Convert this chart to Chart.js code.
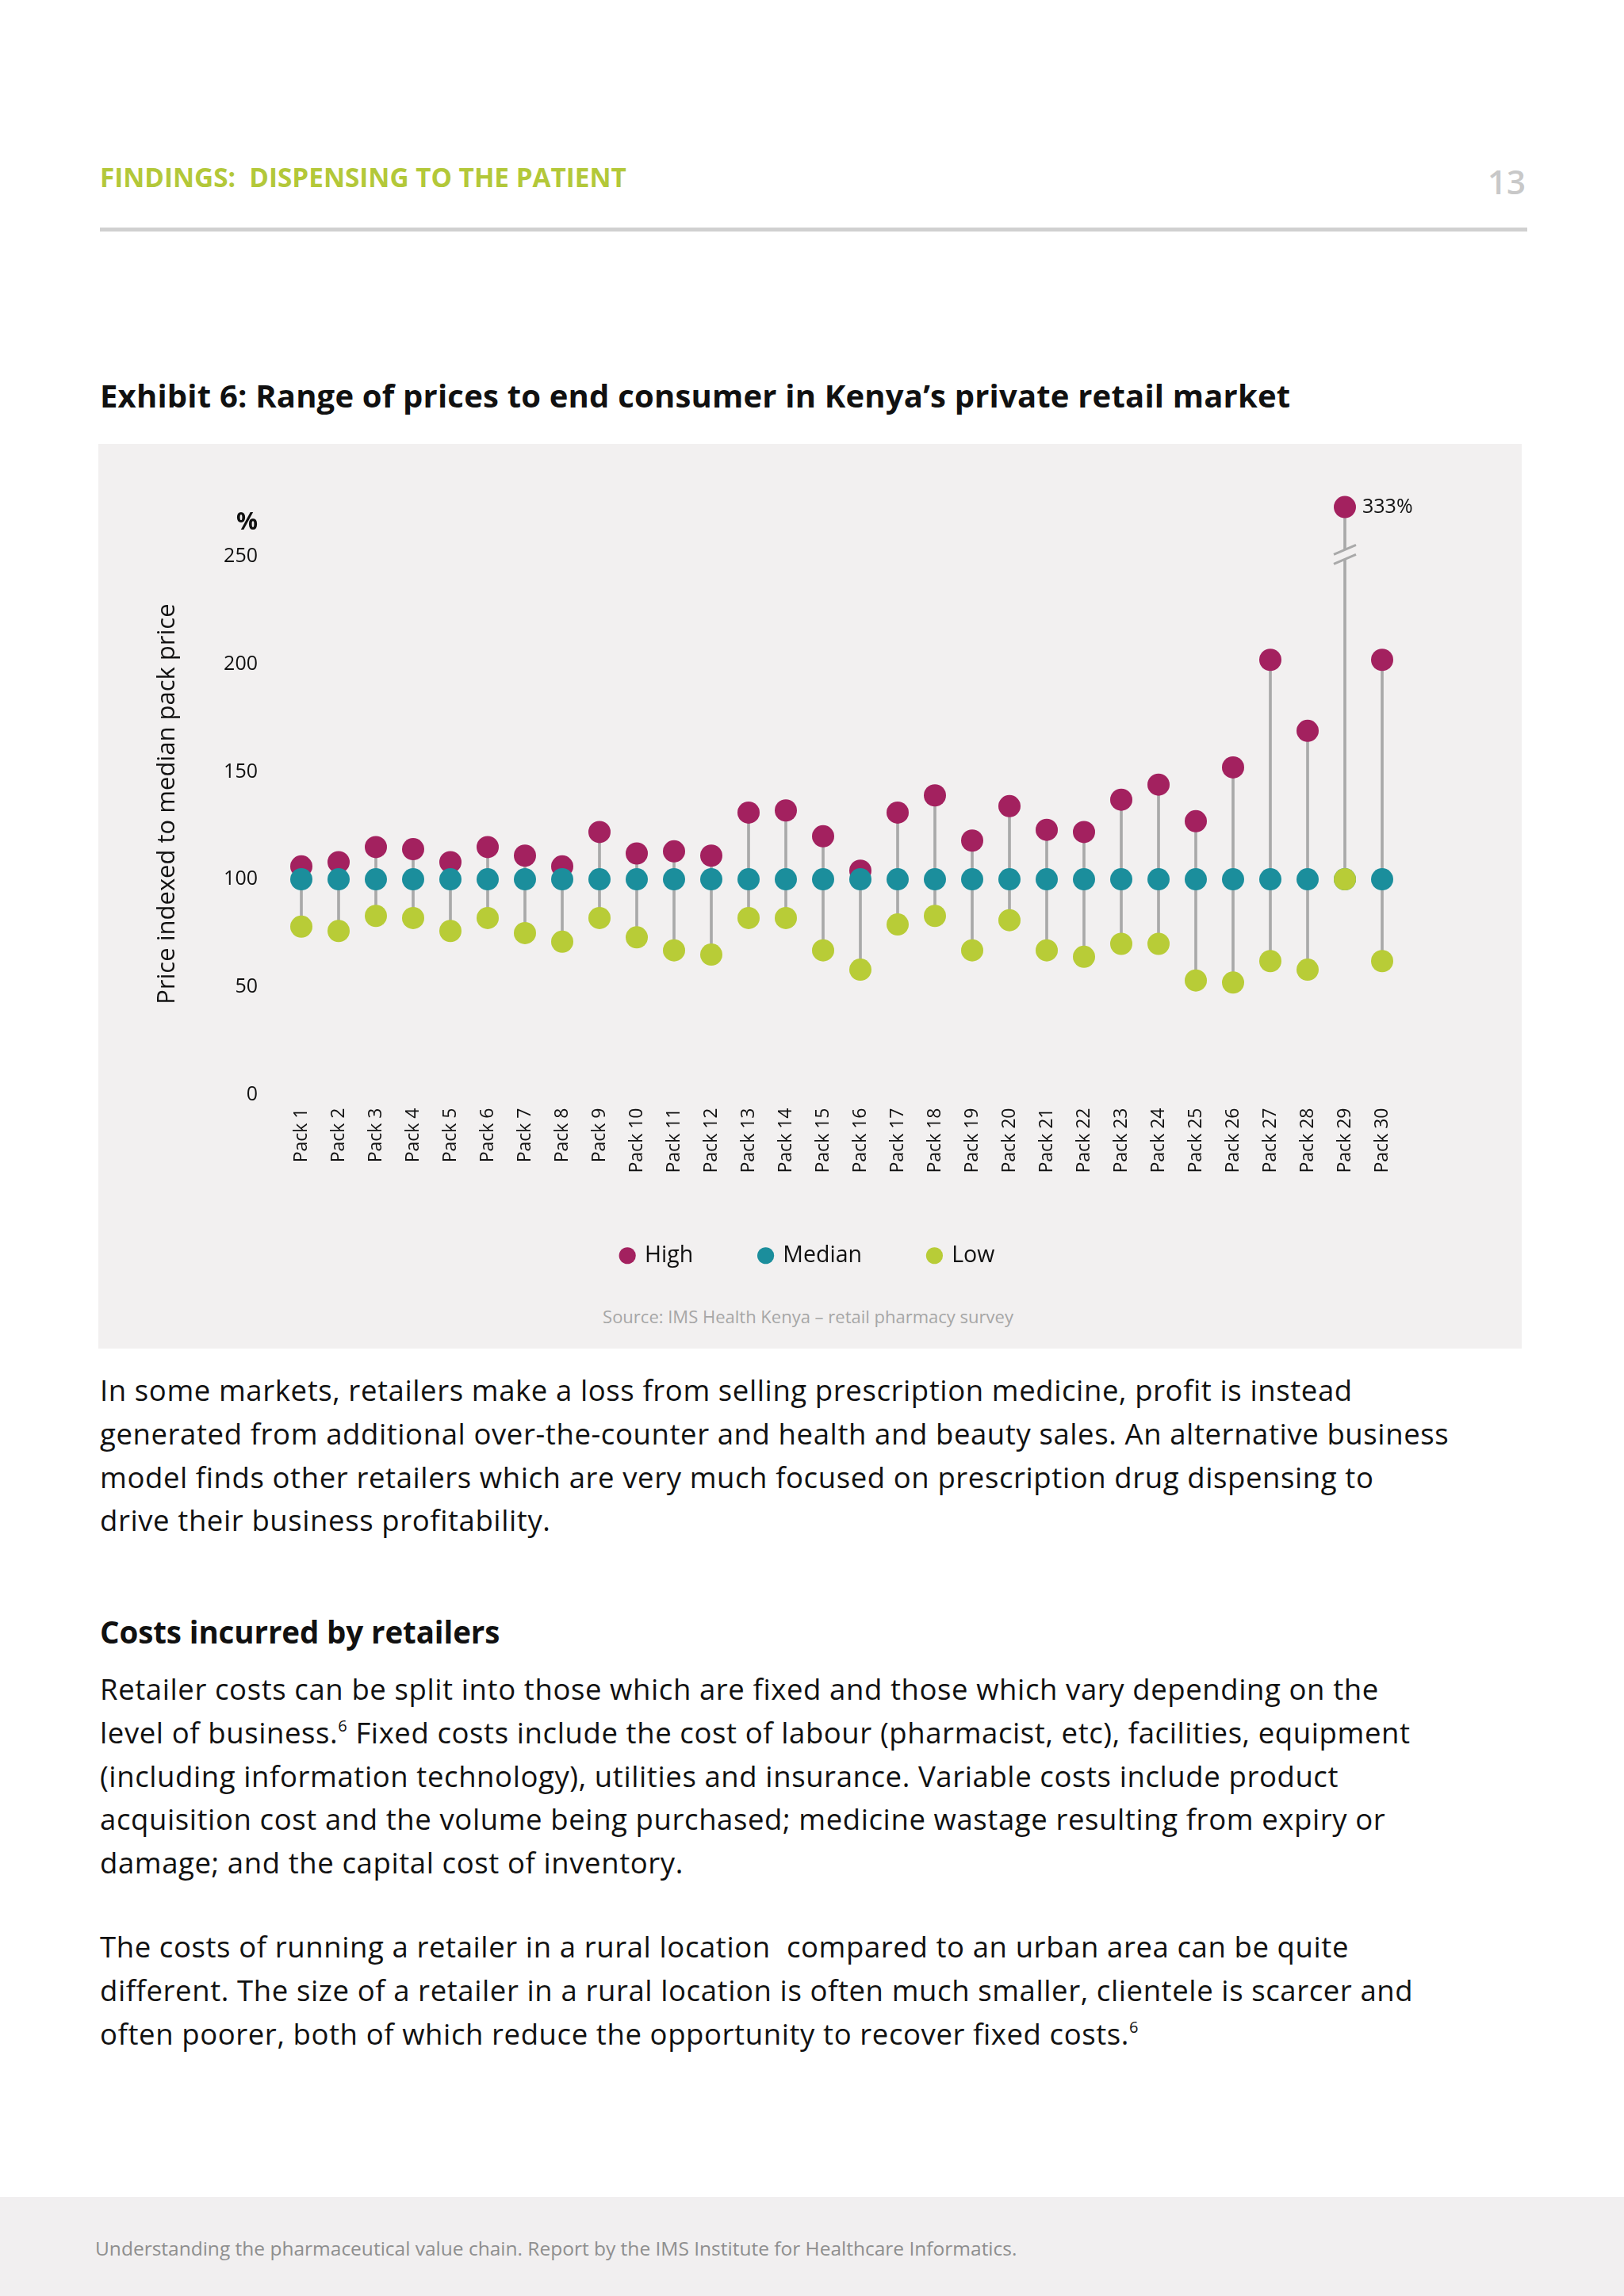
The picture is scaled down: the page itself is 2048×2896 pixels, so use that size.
<!DOCTYPE html>
<html lang="en">
<head>
<meta charset="UTF-8">
<title>Exhibit 6: Range of prices to end consumer in Kenya’s private retail market</title>
<script src="https://cdn.jsdelivr.net/npm/chart.js"></script>
<style>
    body {
        margin: 0;
        width: 2048px;
        height: 2896px;
        position: relative;
        overflow: hidden;
        background: #ffffff;
        font-family: 'Open Sans', sans-serif;
        color: #111111;
    }

    .abs {
        position: absolute;
        white-space: nowrap;
    }

    #section {
        left: 126px;
        top: 207px;
        font-size: 33.3px;
        line-height: 33.3px;
        font-weight: 700;
        color: #b3c839;
    }

    #pageNo {
        right: 124px;
        top: 208px;
        font-size: 42px;
        line-height: 42px;
        font-weight: 600;
        color: #c8c8c8;
    }

    #rule {
        left: 126px;
        top: 287px;
        width: 1800px;
        height: 5px;
        background: #d0d0d0;
    }

    #exhibit {
        left: 126px;
        top: 479px;
        font-size: 40px;
        line-height: 40px;
        font-weight: 700;
        letter-spacing: 0.2px;
    }

    #panel {
        left: 124px;
        top: 560px;
        width: 1795px;
        height: 1141px;
        background: #f2f0f0;
    }

    #chartBox {
        position: absolute;
        left: 124px;
        top: 560px;
    }

    #source {
        left: 519px;
        top: 1649px;
        width: 1000px;
        text-align: center;
        font-size: 22px;
        line-height: 22px;
        color: #a6a6a6;
    }

    .para {
        left: 126px;
        font-size: 36.5px;
        line-height: 54.8px;
        letter-spacing: 0.6px;
    }

    .para sup {
        font-size: 0.55em;
        line-height: 0;
        vertical-align: 0.75em;
    }

    #costs {
        left: 126px;
        top: 2039px;
        font-size: 38.5px;
        line-height: 38.5px;
        font-weight: 700;
        letter-spacing: -0.1px;
    }

    #footer {
        left: 0;
        top: 2771px;
        width: 2048px;
        height: 125px;
        background: #f1eff0;
    }

    #footerText {
        left: 120px;
        top: 2824px;
        font-size: 24.5px;
        line-height: 24.5px;
        color: #8e8e8e;
    }
</style>
</head>
<body>

<div class="abs" id="section">FINDINGS:&nbsp; DISPENSING TO THE PATIENT</div>
<div class="abs" id="pageNo">13</div>
<div class="abs" id="rule"></div>

<div class="abs" id="exhibit">Exhibit 6: Range of prices to end consumer in Kenya’s private retail market</div>

<div class="abs" id="panel"></div>
<div id="chartBox"><canvas id="priceChart" width="1795" height="1058"></canvas></div>
<div class="abs" id="source">Source: IMS Health Kenya – retail pharmacy survey</div>

<div class="abs para" style="top:1726px">In some markets, retailers make a loss from selling prescription medicine, profit is instead<br>generated from additional over-the-counter and health and beauty sales. An alternative business<br>model finds other retailers which are very much focused on prescription drug dispensing to<br>drive their business profitability.</div>

<div class="abs" id="costs">Costs incurred by retailers</div>

<div class="abs para" style="top:2103px">Retailer costs can be split into those which are fixed and those which vary depending on the<br>level of business.<sup>6</sup> Fixed costs include the cost of labour (pharmacist, etc), facilities, equipment<br>(including information technology), utilities and insurance. Variable costs include product<br>acquisition cost and the volume being purchased; medicine wastage resulting from expiry or<br>damage; and the capital cost of inventory.</div>

<div class="abs para" style="top:2428px">The costs of running a retailer in a rural location&nbsp; compared to an urban area can be quite<br>different. The size of a retailer in a rural location is often much smaller, clientele is scarcer and<br>often poorer, both of which reduce the opportunity to recover fixed costs.<sup>6</sup></div>

<div class="abs" id="footer"></div>
<div class="abs" id="footerText">Understanding the pharmaceutical value chain. Report by the IMS Institute for Healthcare Informatics.</div>

<script>
    // Price indexed to the median pack price (%)
    const packs = ['Pack 1', 'Pack 2', 'Pack 3', 'Pack 4', 'Pack 5', 'Pack 6', 'Pack 7', 'Pack 8', 'Pack 9', 'Pack 10',
        'Pack 11', 'Pack 12', 'Pack 13', 'Pack 14', 'Pack 15', 'Pack 16', 'Pack 17', 'Pack 18', 'Pack 19', 'Pack 20',
        'Pack 21', 'Pack 22', 'Pack 23', 'Pack 24', 'Pack 25', 'Pack 26', 'Pack 27', 'Pack 28', 'Pack 29', 'Pack 30'];
    const highPrice = [106, 108, 115, 114, 108, 115, 111, 106, 122, 112, 113, 111, 131, 132, 120,
        104, 131, 139, 118, 134, 123, 122, 137, 144, 127, 152, 202, 169, 333, 202];
    const medianPrice = [100, 100, 100, 100, 100, 100, 100, 100, 100, 100, 100, 100, 100, 100, 100,
        100, 100, 100, 100, 100, 100, 100, 100, 100, 100, 100, 100, 100, 100, 100];
    const lowPrice = [78, 76, 83, 82, 76, 82, 75, 71, 82, 73, 67, 65, 82, 82, 67,
        58, 79, 83, 67, 81, 67, 64, 70, 70, 53, 52, 62, 58, 100, 62];
    const yTicks = [0, 50, 100, 150, 200, 250];

    // anything above the break is drawn just over it, with its real value written beside it
    const AXIS_BREAK = 250;
    const BROKEN_AT = 273;
    const onAxis = v => v > AXIS_BREAK ? BROKEN_AT : v;

    const colours = {
        high: '#a3215f',
        median: '#1b8e9c',
        low: '#b8cc37',
        stem: '#a9a9a9',
        panel: '#f2f0f0',
        text: '#111111'
    };

    Chart.defaults.font.family = "'Open Sans', sans-serif";
    Chart.defaults.color = colours.text;

    function dots(label, values, colour, order) {
        return {
            type: 'line',
            label: label,
            data: values.map(onAxis),
            showLine: false,
            backgroundColor: colour,
            borderColor: colour,
            pointBackgroundColor: colour,
            pointBorderWidth: 0,
            pointRadius: 14,
            pointHoverRadius: 14,
            clip: false,
            order: order
        };
    }

    // break marks, the off-scale label and the "%" unit over the axis
    const annotations = {
        id: 'annotations',
        afterDatasetsDraw(chart) {
            const ctx = chart.ctx;
            const x = chart.scales.x;
            const y = chart.scales.y;
            const highMeta = chart.getDatasetMeta(1);

            highPrice.forEach((v, i) => {
                if (v <= AXIS_BREAK) return;
                const cx = x.getPixelForValue(i);
                const cy = y.getPixelForValue(AXIS_BREAK + 1);
                ctx.save();
                ctx.fillStyle = colours.panel;
                ctx.beginPath();
                ctx.moveTo(cx - 14, cy);
                ctx.lineTo(cx + 14, cy - 12);
                ctx.lineTo(cx + 14, cy);
                ctx.lineTo(cx - 14, cy + 12);
                ctx.closePath();
                ctx.fill();
                ctx.strokeStyle = colours.stem;
                ctx.lineWidth = 3;
                ctx.beginPath();
                ctx.moveTo(cx - 14, cy);
                ctx.lineTo(cx + 14, cy - 12);
                ctx.moveTo(cx - 14, cy + 12);
                ctx.lineTo(cx + 14, cy);
                ctx.stroke();

                const pt = highMeta.data[i];
                ctx.fillStyle = colours.text;
                ctx.font = "25px 'Open Sans', sans-serif";
                ctx.textAlign = 'left';
                ctx.textBaseline = 'middle';
                ctx.fillText(v + '%', pt.x + 22, pt.y);
                ctx.restore();
            });

            ctx.save();
            ctx.fillStyle = colours.text;
            ctx.font = "bold 30px 'Open Sans', sans-serif";
            ctx.textAlign = 'right';
            ctx.textBaseline = 'middle';
            ctx.fillText('%', y.right - 31.5, y.getPixelForValue(yTicks[yTicks.length - 1]) - 43);
            ctx.restore();
        }
    };

    new Chart(document.getElementById('priceChart'), {
        data: {
            labels: packs,
            datasets: [
                {
                    type: 'bar',
                    label: 'Range',
                    data: packs.map((p, i) => [lowPrice[i], onAxis(highPrice[i])]),
                    backgroundColor: colours.stem,
                    borderWidth: 0,
                    barThickness: 3,
                    clip: false,
                    order: 4
                },
                dots('High', highPrice, colours.high, 3),
                dots('Median', medianPrice, colours.median, 2),
                dots('Low', lowPrice, colours.low, 1)
            ]
        },
        options: {
            responsive: false,
            animation: false,
            events: [],
            layout: {
                padding: { left: 147.5, right: 152.5, top: 87.7, bottom: 10 }
            },
            plugins: {
                tooltip: { enabled: false },
                legend: {
                    position: 'bottom',
                    labels: {
                        usePointStyle: true,
                        pointStyle: 'circle',
                        boxWidth: 15,
                        boxHeight: 15,
                        padding: 84,
                        color: colours.text,
                        font: { size: 28.5 },
                        filter: item => item.datasetIndex > 0,
                        sort: (a, b) => a.datasetIndex - b.datasetIndex
                    }
                }
            },
            scales: {
                x: {
                    offset: true,
                    grid: { display: false, drawTicks: false },
                    border: { display: false },
                    ticks: {
                        autoSkip: false,
                        minRotation: 90,
                        maxRotation: 90,
                        padding: 17,
                        color: colours.text,
                        font: { size: 23 }
                    },
                    afterFit: scale => { scale.height = 105; }
                },
                y: {
                    min: 0,
                    max: 270,
                    grid: { display: false, drawTicks: false },
                    border: { display: false },
                    ticks: {
                        stepSize: 50,
                        padding: 31.5,
                        color: colours.text,
                        font: { size: 25 }
                    },
                    afterBuildTicks: scale => {
                        scale.ticks = yTicks.map(v => ({ value: v }));
                    },
                    afterFit: scale => { scale.width = 85; },
                    title: {
                        display: true,
                        text: 'Price indexed to median pack price',
                        color: colours.text,
                        font: { size: 31 },
                        padding: { top: -79, bottom: 0 }
                    }
                }
            }
        },
        plugins: [annotations]
    });
</script>
</body>
</html>
